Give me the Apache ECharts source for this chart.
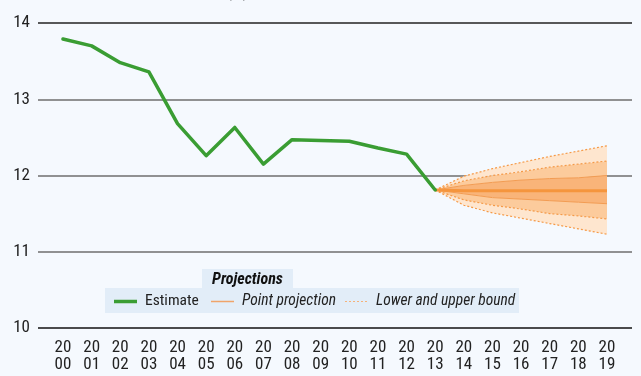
<!DOCTYPE html>
<html>
<head>
<meta charset="utf-8">
<script src="https://cdn.jsdelivr.net/npm/echarts@6/dist/echarts.min.js"></script>
<style>
  html, body { margin: 0; padding: 0; background: #f5f9fe; }
  #chart { width: 641px; height: 376px; }
</style>
</head>
<body>
<div id="chart"></div>
<script>
// Years on the horizontal axis
const years = ['2000','2001','2002','2003','2004','2005','2006','2007','2008','2009',
               '2010','2011','2012','2013','2014','2015','2016','2017','2018','2019'];

// Observed estimate, 2000-2013
const estimate = [13.79, 13.70, 13.48, 13.36, 12.68, 12.26, 12.63, 12.15, 12.47, 12.46,
                  12.45, 12.36, 12.28, 11.81];

// Projection fan, 2013-2019
const projStart = 13;
const pointProjection = [11.81, 11.80, 11.80, 11.80, 11.80, 11.80, 11.80];
const innerLow  = [11.81, 11.76, 11.71, 11.69, 11.67, 11.65, 11.63];
const innerHigh = [11.81, 11.87, 11.91, 11.94, 11.96, 11.97, 12.00];
const midLow    = [11.81, 11.68, 11.61, 11.56, 11.50, 11.47, 11.43];
const midHigh   = [11.81, 11.93, 12.00, 12.05, 12.11, 12.15, 12.19];
const outerLow  = [11.81, 11.61, 11.51, 11.44, 11.37, 11.30, 11.23];
const outerHigh = [11.81, 11.99, 12.09, 12.17, 12.25, 12.32, 12.39];

// Y axis ticks
const yMin = 10, yMax = 14, yStep = 1;

// Legend entries
const legendItems = ['Estimate', 'Point projection', 'Lower and upper bound'];
const legendTitle = 'Projections';
const chartTitle = 'Unemployment rate (%)';

// Pick the narrowest available condensed face for labels
const measureCtx = document.createElement('canvas').getContext('2d');
function textWidth(font, text) {
  measureCtx.font = font;
  return measureCtx.measureText(text).width;
}
const fontCandidates = [
  { fam: "'Liberation Sans Narrow'", st: '' },
  { fam: "'DejaVu Sans Condensed'", st: '' },
  { fam: "'Roboto Condensed'", st: '' },
  { fam: 'Roboto', st: 'condensed' },
  { fam: "'Open Sans'", st: 'condensed' },
  { fam: "'Noto Sans'", st: 'condensed' },
  { fam: "'Noto Sans'", st: 'extra-condensed' },
  { fam: 'Roboto', st: '' },
  { fam: "'Liberation Sans'", st: '' }
];
let best = fontCandidates[fontCandidates.length - 1], bestErr = Infinity;
fontCandidates.forEach(c => {
  const w = textWidth((c.st ? c.st + ' ' : '') + '15px ' + c.fam, 'Estimate');
  const err = Math.abs(w - 52);
  if (err < bestErr) { bestErr = err; best = c; }
});
const FAM = best.fam;
const ST = best.st;
function weight(w) { return ST ? (w + ' ' + ST) : w; }
function font(style, w, size) { return [style, w, ST, size + 'px', FAM].filter(Boolean).join(' '); }

// Pad a projection array onto the full year range
function pad(arr) {
  const out = new Array(years.length).fill('-');
  arr.forEach((v, i) => { out[projStart + i] = v; });
  return out;
}
function diff(a, b) {
  return a.map((v, i) => +(v - b[i]).toFixed(4));
}

const lightBand = '#fee6cf';
const midBand = '#fccb9c';
const innerBand = '#f9b479';
const boundColor = '#f59a48';
const green = '#3a9d33';

function band(values, color) {
  return {
    type: 'line', xAxisIndex: 1, yAxisIndex: 1, stack: 'fan',
    data: pad(values), symbol: 'none', lineStyle: { width: 0 },
    areaStyle: { color: color, opacity: 1 }, silent: true, z: 1
  };
}
function edge(values, dashed) {
  return {
    type: 'line', xAxisIndex: 1, yAxisIndex: 1,
    data: pad(values), symbol: 'none', z: 3, silent: true,
    lineStyle: dashed
      ? { color: boundColor, width: 1.2, type: [2, 2] }
      : { color: '#f39c52', width: 1 }
  };
}

const series = [
  { type: 'line', xAxisIndex: 1, yAxisIndex: 1, stack: 'fan',
    data: pad(outerLow), symbol: 'none', lineStyle: { width: 0 }, silent: true },
  band(diff(midLow, outerLow), lightBand),
  band(diff(innerLow, midLow), midBand),
  band(diff(innerHigh, innerLow), innerBand),
  band(diff(midHigh, innerHigh), midBand),
  band(diff(outerHigh, midHigh), lightBand),
  edge(outerLow, true),
  edge(outerHigh, true),
  edge(midLow, true),
  edge(midHigh, true),
  edge(innerLow, false),
  edge(innerHigh, false),
  {
    name: legendItems[1], type: 'line', xAxisIndex: 1, yAxisIndex: 1,
    data: pad(pointProjection), symbol: 'none', z: 4,
    lineStyle: { color: '#f5953d', width: 3 }
  },
  {
    name: legendItems[0], type: 'line', xAxisIndex: 1, yAxisIndex: 1,
    data: estimate, symbol: 'none', z: 5,
    lineStyle: { color: green, width: 3.5, join: 'round', cap: 'round' }
  }
];

// Legend drawn as a boxed key under the plot
const legendFont = font('', 'normal', 15.5);
const legendItalic = font('italic', 'normal', 15.5);
const titleFont = font('', 'bold', 17);
const unemW = textWidth(titleFont, 'Unem');

const graphic = [
  {
    type: 'text', x: 129 - unemW, y: 1.5,
    style: { text: chartTitle, font: titleFont, fill: '#111', verticalAlign: 'bottom' }
  },
  { type: 'rect', shape: { x: 202, y: 269, width: 91, height: 20 }, style: { fill: '#e2edf8' }, z: 10 },
  { type: 'rect', shape: { x: 105, y: 288, width: 414, height: 25 }, style: { fill: '#e2edf8' }, z: 10 },
  {
    type: 'text', x: 247.5, y: 280, z: 11,
    style: { text: legendTitle, font: font('italic', 'bold', 16), fill: '#111', align: 'center', verticalAlign: 'middle' }
  },
  { type: 'line', shape: { x1: 114, y1: 301.5, x2: 137, y2: 301.5 }, style: { stroke: green, lineWidth: 3.5 }, z: 11 },
  {
    type: 'text', x: 145, y: 301, z: 11,
    style: { text: legendItems[0], font: legendFont, fill: '#222', verticalAlign: 'middle' }
  },
  { type: 'line', shape: { x1: 211, y1: 301.5, x2: 234, y2: 301.5 }, style: { stroke: '#f0a46a', lineWidth: 1.5 }, z: 11 },
  {
    type: 'text', x: 242, y: 301, z: 11,
    style: { text: legendItems[1], font: legendItalic, fill: '#222', verticalAlign: 'middle' }
  },
  { type: 'line', shape: { x1: 345, y1: 301.5, x2: 367, y2: 301.5 }, style: { stroke: '#f5b27a', lineWidth: 1.2, lineDash: [2, 2] }, z: 11 },
  {
    type: 'text', x: 376, y: 301, z: 11,
    style: { text: legendItems[2], font: legendItalic, fill: '#222', verticalAlign: 'middle' }
  }
];

const chart = echarts.init(document.getElementById('chart'), null, { renderer: 'canvas' });
chart.setOption({
  backgroundColor: '#f5f9fe',
  animation: false,
  textStyle: { fontFamily: FAM },
  grid: [
    { left: 38, right: 9, top: 23, bottom: 48 },
    { left: 63, right: 34, top: 23, bottom: 48 }
  ],
  xAxis: [
    { gridIndex: 0, type: 'value', min: 0, max: 1, show: false },
    {
      gridIndex: 1, type: 'category', data: years, boundaryGap: false,
      axisLine: { show: false }, axisTick: { show: false }, splitLine: { show: false },
      axisLabel: {
        interval: 0, margin: 11, fontSize: 17, lineHeight: 17, color: '#222',
        fontFamily: FAM, fontWeight: weight('normal'),
        formatter: v => v.slice(0, 2) + '\n' + v.slice(2)
      }
    }
  ],
  yAxis: [
    {
      gridIndex: 0, type: 'value', min: yMin, max: yMax, interval: yStep,
      axisLine: { show: false }, axisTick: { show: false },
      axisLabel: { margin: 8, fontSize: 17, color: '#222', fontFamily: FAM, fontWeight: weight('normal') },
      splitLine: {
        show: true,
        lineStyle: { color: ['#111111', '#6e6e6e', '#6e6e6e', '#6e6e6e', '#222222'], width: 1.5 }
      }
    },
    { gridIndex: 1, type: 'value', min: yMin, max: yMax, interval: yStep, show: false }
  ],
  graphic: graphic,
  series: series
});
</script>
</body>
</html>
